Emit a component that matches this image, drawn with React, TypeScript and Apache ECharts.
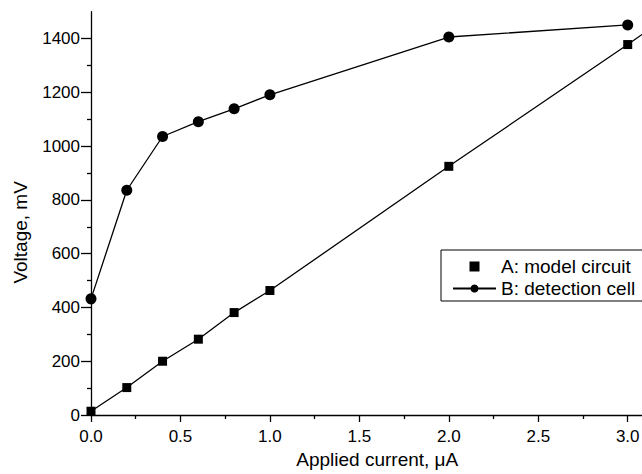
import React, { useEffect, useRef } from 'react';
import * as echarts from 'echarts';

const seriesNames = ['A: model circuit', 'B: detection cell'];
const currentA = [0, 0.2, 0.4, 0.6, 0.8, 1.0, 2.0, 3.0, 3.2];
const voltageA = [14, 102, 200, 282, 381, 463, 925, 1378, 1472];
const currentB = [0, 0.2, 0.4, 0.6, 0.8, 1.0, 2.0, 3.0];
const voltageB = [432, 836, 1036, 1091, 1139, 1191, 1406, 1451];
const yMajorTicks = [0, 200, 400, 600, 800, 1000, 1200, 1400];
const yMinorTicks = [100, 300, 500, 700, 900, 1100, 1300];
const xAxisTitle = 'Applied current, μA';
const yAxisTitle = 'Voltage, mV';

const FONT = '"Liberation Sans", Arial, sans-serif';
const INK = '#000';

export default function App() {
  const ref = useRef<HTMLDivElement>(null);
  useEffect(() => {
    if (!ref.current) return;
    const chart = echarts.init(ref.current, undefined, { renderer: 'svg' });
    const toPairs = (xs: number[], ys: number[]) => xs.map((x, i) => [x, ys[i]]);
    chart.setOption({
      animation: false,
      backgroundColor: '#fff',
      textStyle: { fontFamily: FONT, color: INK },
      grid: { left: 91, top: 11.75, right: 0.5, bottom: 53.5, containLabel: false },
      legend: {
        orient: 'vertical',
        left: 441,
        top: 250,
        itemWidth: 43,
        itemHeight: 10,
        itemGap: 3,
        symbolKeepAspect: true,
        borderColor: INK,
        borderWidth: 1,
        borderRadius: 0,
        padding: [7, 40, 3, 11],
        textStyle: { fontSize: 19, color: INK, fontFamily: FONT },
        data: [
          { name: seriesNames[0], icon: 'path://M0,0L10,0L10,10L0,10Z' },
          { name: seriesNames[1] },
        ],
      },
      xAxis: {
        type: 'value',
        min: 0,
        max: 3.2,
        interval: 0.5,
        name: xAxisTitle,
        nameLocation: 'middle',
        nameGap: 35,
        nameTextStyle: { fontSize: 19, color: INK, fontFamily: FONT },
        axisLine: { show: true, onZero: false, lineStyle: { color: INK, width: 1.3 } },
        axisTick: { show: true, inside: false, length: 7, lineStyle: { color: INK, width: 1.3 } },
        minorTick: { show: true, splitNumber: 2, length: 4, lineStyle: { color: INK, width: 1.3 } },
        axisLabel: {
          fontSize: 17,
          color: INK,
          margin: 13,
          showMaxLabel: false,
          formatter: (v: number) => v.toFixed(1),
        },
        splitLine: { show: false },
      },
      yAxis: [
        {
          type: 'value',
          position: 'left',
          min: 0,
          max: 1500,
          interval: 100,
          name: yAxisTitle,
          nameLocation: 'middle',
          nameGap: 61,
          nameTextStyle: { fontSize: 19, color: INK, fontFamily: FONT, padding: [0, 38, 0, 0] },
          axisLine: { show: true, onZero: false, lineStyle: { color: INK, width: 1.3 } },
          axisTick: { show: true, length: 10, customValues: yMajorTicks, lineStyle: { color: INK, width: 1.3 } },
          axisLabel: {
            fontSize: 17,
            color: INK,
            margin: 11,
            customValues: yMajorTicks,
            formatter: (v: number) => String(v),
          },
          splitLine: { show: false },
        },
        {
          type: 'value',
          position: 'left',
          min: 0,
          max: 1500,
          interval: 100,
          axisLine: { show: false, onZero: false },
          axisTick: { show: true, length: 4, customValues: yMinorTicks, lineStyle: { color: INK, width: 1.3 } },
          axisLabel: { show: false },
          splitLine: { show: false },
        },
      ],
      series: [
        {
          name: seriesNames[0],
          type: 'line',
          yAxisIndex: 0,
          data: toPairs(currentA, voltageA),
          symbol: 'rect',
          symbolSize: 9,
          showAllSymbol: true,
          itemStyle: { color: INK },
          lineStyle: { color: INK, width: 1.3 },
          clip: true,
          z: 3,
        },
        {
          name: seriesNames[1],
          type: 'line',
          yAxisIndex: 0,
          data: toPairs(currentB, voltageB),
          symbol: 'circle',
          symbolSize: 11,
          showAllSymbol: true,
          itemStyle: { color: INK },
          lineStyle: { color: INK, width: 1.3 },
          clip: true,
          z: 3,
        },
      ],
    });
    return () => chart.dispose();
  }, []);
  return (
    <div
      style={{
        position: 'fixed',
        left: 0,
        top: 0,
        width: 642,
        height: 474,
        overflow: 'hidden',
        background: '#fff',
      }}
    >
      <div ref={ref} style={{ width: 664, height: 474 }} />
    </div>
  );
}
